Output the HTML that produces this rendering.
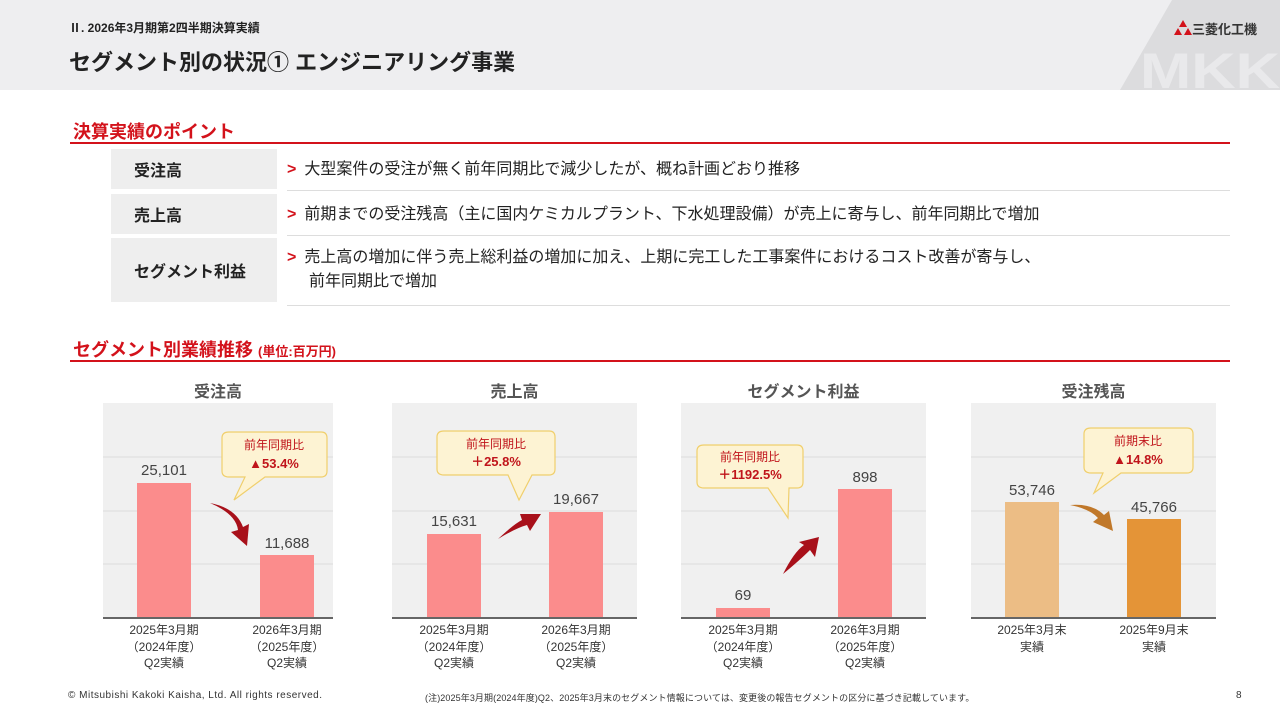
<!DOCTYPE html><html><head><meta charset="utf-8"><style>
*{margin:0;padding:0;box-sizing:border-box}
body{width:1280px;height:720px;position:relative;background:#fff;font-family:"Liberation Sans","Noto Sans CJK JP",sans-serif;overflow:hidden;color:#222}
.a{position:absolute}
.red{color:#d3121b}
.lbl{position:absolute;left:111px;width:166px;background:#eeeeee;font-size:16px;font-weight:bold;display:flex;align-items:center;padding-left:23px}
.txt{position:absolute;left:287px;width:943px;font-size:16px;line-height:24px;border-bottom:1px solid #ddd}
.txt b{color:#d3121b;font-weight:bold;margin-right:8px}
.ct{position:absolute;font-size:16px;color:#555;text-align:center;top:378px;font-weight:bold}
.xl{position:absolute;font-size:12px;line-height:16.5px;text-align:center;width:120px;top:622px;color:#333}
</style></head><body>
<div class="a" style="left:0;top:0;width:1280px;height:90px;background:#eeeef0"></div>
<svg class="a" style="left:0;top:0" width="1280" height="90"><polygon points="1172,0 1280,0 1280,90 1120,90" fill="#dcdcde"/><text x="1140" y="88" font-family="Liberation Sans" font-weight="bold" font-size="50" fill="#e9e9eb" textLength="140" lengthAdjust="spacingAndGlyphs">MKK</text><polygon points="1183,20 1179,27 1187,27" fill="#d3121b"/><polygon points="1178,28 1174,35 1182,35" fill="#d3121b"/><polygon points="1188,28 1184,35 1192,35" fill="#d3121b"/></svg>
<div class="a" style="left:1192px;top:19px;font-size:13px;font-weight:bold;color:#333">三菱化工機</div>
<div class="a" style="left:69px;top:19px;font-size:12px;font-weight:bold">Ⅱ. 2026年3月期第2四半期決算実績</div>
<div class="a" style="left:69px;top:45px;font-size:22px;font-weight:bold">セグメント別の状況① エンジニアリング事業</div>
<div class="a red" style="left:73px;top:118px;font-size:18px;font-weight:bold">決算実績のポイント</div>
<div class="a" style="left:70px;top:142px;width:1160px;height:2px;background:#d3121b"></div>
<div class="lbl" style="top:149px;height:40px">受注高</div>
<div class="lbl" style="top:194px;height:40px">売上高</div>
<div class="lbl" style="top:238px;height:64px">セグメント利益</div>
<div class="txt" style="top:149px;height:42px;padding-top:9px"><b>&gt;</b>大型案件の受注が無く前年同期比で減少したが、概ね計画どおり推移</div>
<div class="txt" style="top:194px;height:42px;padding-top:9px"><b>&gt;</b>前期までの受注残高（主に国内ケミカルプラント、下水処理設備）が売上に寄与し、前年同期比で増加</div>
<div class="txt" style="top:238px;height:68px;padding-top:8px"><b>&gt;</b>売上高の増加に伴う売上総利益の増加に加え、上期に完工した工事案件におけるコスト改善が寄与し、<br><span style="margin-left:22px">前年同期比で増加</span></div>
<div class="a red" style="left:73px;top:336px;font-size:18px;font-weight:bold">セグメント別業績推移 <span style="font-size:13px">(単位:百万円)</span></div>
<div class="a" style="left:70px;top:360px;width:1160px;height:2px;background:#d3121b"></div>
<div class="ct" style="left:103px;width:230px">受注高</div>
<div class="ct" style="left:392px;width:245px">売上高</div>
<div class="ct" style="left:681px;width:245px">セグメント利益</div>
<div class="ct" style="left:971px;width:245px">受注残高</div>
<svg class="a" style="left:0;top:0" width="1280" height="720" font-family="Liberation Sans,Noto Sans CJK JP,sans-serif">
<g fill="#f0f0f0"><rect x="103" y="403" width="230" height="215"/><rect x="392" y="403" width="245" height="215"/><rect x="681" y="403" width="245" height="215"/><rect x="971" y="403" width="245" height="215"/></g>
<g stroke="#dcdcdc" stroke-width="1">
<path d="M103 457H333M103 511H333M103 564H333M392 457H637M392 511H637M392 564H637M681 457H926M681 511H926M681 564H926M971 457H1216M971 511H1216M971 564H1216"/></g>
<g stroke="#666" stroke-width="2"><path d="M103 618H333M392 618H637M681 618H926M971 618H1216"/></g>
<g fill="#fb8c8c"><rect x="137" y="483" width="54" height="134"/><rect x="260" y="555" width="54" height="62"/><rect x="427" y="534" width="54" height="83"/><rect x="549" y="512" width="54" height="105"/><rect x="716" y="608" width="54" height="9"/><rect x="838" y="489" width="54" height="128"/></g>
<rect x="1005" y="502" width="54" height="115" fill="#ecbd85"/><rect x="1127" y="519" width="54" height="98" fill="#e49437"/>
<g fill="#fdf3d3" stroke="#f0cf6c" stroke-width="1.2">
<path d="M229 432H321Q327 432 327 438V471Q327 477 321 477H265L234 500L245 477H229Q222 477 222 471V438Q222 432 229 432Z"/>
<path d="M444 431H549Q555 431 555 437V469Q555 475 549 475H532L519 500L508 475H444Q437 475 437 469V437Q437 431 444 431Z"/>
<path d="M704 445H797Q803 445 803 451V482Q803 488 797 488H789L788 518L768 488H704Q697 488 697 482V451Q697 445 704 445Z"/>
<path d="M1091 428H1187Q1193 428 1193 434V467Q1193 473 1187 473H1121L1094 493L1103 473H1091Q1084 473 1084 467V434Q1084 428 1091 428Z"/></g>
<g font-size="12" fill="#c0141b" text-anchor="middle"><text x="274" y="449">前年同期比</text><text x="496" y="448">前年同期比</text><text x="750" y="461">前年同期比</text><text x="1138" y="445">前期末比</text></g>
<g font-size="13" font-weight="bold" fill="#c0141b" text-anchor="middle"><text x="274" y="468">▲53.4%</text><text x="496" y="466">＋25.8%</text><text x="750" y="479">＋1192.5%</text><text x="1138" y="464">▲14.8%</text></g>
<g font-size="15" fill="#444" text-anchor="middle"><text x="164" y="475">25,101</text><text x="287" y="548">11,688</text><text x="454" y="526">15,631</text><text x="576" y="504">19,667</text><text x="743" y="600">69</text><text x="865" y="482">898</text><text x="1032" y="495">53,746</text><text x="1154" y="512">45,766</text></g>
<g fill="#a8101a"><path d="M210 503Q236 514 238 530L231 532L247 546L249 524L243 527Q236 508 210 503Z"/>
<path d="M498 539Q514 524 522 520L520 514L541 514L530 531L527 525Q516 528 498 539Z"/>
<path d="M783 574Q794 552 804 545L799 542L819 537L815 557L810 550Q800 560 783 574Z"/></g>
<path d="M1070 505Q1090 509 1098 518L1093 522L1113 531L1109 511L1104 515Q1092 503 1070 505Z" fill="#c0782a"/>
</svg>
<div class="xl" style="left:104px">2025年3月期<br>（2024年度）<br>Q2実績</div>
<div class="xl" style="left:227px">2026年3月期<br>（2025年度）<br>Q2実績</div>
<div class="xl" style="left:394px">2025年3月期<br>（2024年度）<br>Q2実績</div>
<div class="xl" style="left:516px">2026年3月期<br>（2025年度）<br>Q2実績</div>
<div class="xl" style="left:683px">2025年3月期<br>（2024年度）<br>Q2実績</div>
<div class="xl" style="left:805px">2026年3月期<br>（2025年度）<br>Q2実績</div>
<div class="xl" style="left:972px">2025年3月末<br>実績</div>
<div class="xl" style="left:1094px">2025年9月末<br>実績</div>
<div class="a" style="left:68px;top:690px;font-size:10px;color:#333;letter-spacing:0.5px">© Mitsubishi Kakoki Kaisha, Ltd. All rights reserved.</div>
<div class="a" style="left:425px;top:691px;font-size:9px;color:#333;letter-spacing:0.1px">(注)2025年3月期(2024年度)Q2、2025年3月末のセグメント情報については、変更後の報告セグメントの区分に基づき記載しています。</div>
<div class="a" style="left:1236px;top:690px;font-size:10px;color:#333">8</div>
</body></html>
